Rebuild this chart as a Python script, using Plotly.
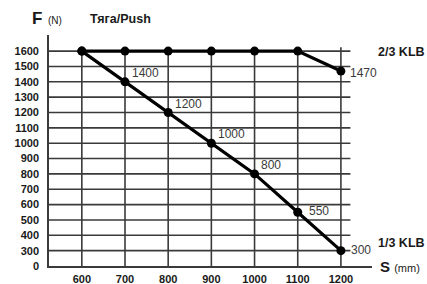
import plotly.graph_objects as go

s_mm = [600, 700, 800, 900, 1000, 1100, 1200]
klb23 = [1600, 1600, 1600, 1600, 1600, 1600, 1470]
klb13 = [1600, 1400, 1200, 1000, 800, 550, 300]
klb23_labels = ["", "", "", "", "", "", "1470"]
klb13_labels = ["", "1400", "1200", "1000", "800", "550", "300"]
y_ticks = [200, 300, 400, 500, 600, 700, 800, 900, 1000, 1100, 1200, 1300, 1400, 1500, 1600]
y_ticktext = ["0"] + [str(v) for v in y_ticks[1:]]
x_ticks = s_mm

# label offsets (pixels) – styling only
klb23_shift = [(0, 0)] * 6 + [(7, -2)]
klb13_shift = [(0, 0), (5, 9), (5, 9), (5, 9), (4, 9), (9, 1), (8, 1)]

FONT = "Liberation Sans, Arial, sans-serif"
GRID = "#3a3a3a"
TXT = "#1a1a1a"
LBL = "#3a3a3a"

L, R, T, B = 49, 55, 35, 18
PW = 427 - L - R
PH = 284 - T - B


def px(xp):
    return (xp - L) / PW


def py(yp):
    return (284 - B - yp) / PH


fig = go.Figure()

# grid lines as shapes (limited extent like the original)
for xv in x_ticks:
    fig.add_shape(type="line", x0=xv, x1=xv, y0=200, y1=1625,
                  line=dict(color=GRID, width=1.6), layer="between")
for yv in y_ticks[1:]:
    fig.add_shape(type="line", x0=524, x1=1222, y0=yv, y1=yv,
                  line=dict(color=GRID, width=1.6), layer="between")

for ys in (klb23, klb13):
    fig.add_trace(go.Scatter(
        x=s_mm, y=ys, mode="lines+markers",
        line=dict(color="black", width=3.2),
        marker=dict(color="black", size=9),
        cliponaxis=False, showlegend=False, hoverinfo="skip"))

ann = []
for ys, labels, shifts in ((klb23, klb23_labels, klb23_shift), (klb13, klb13_labels, klb13_shift)):
    for xv, yv, lab, (dx, dy) in zip(s_mm, ys, labels, shifts):
        if lab:
            ann.append(dict(x=xv, y=yv, xref="x", yref="y", text=lab, showarrow=False,
                            xanchor="left", yanchor="middle", xshift=dx, yshift=dy,
                            font=dict(family=FONT, size=12, color=LBL)))

fig.update_xaxes(range=[524, 1272], tickvals=x_ticks, showgrid=False, zeroline=False,
                 showline=True, linecolor=GRID, linewidth=1.6, automargin=False,
                 tickfont=dict(family=FONT, size=11, color=TXT, weight="bold"),
                 ticks="", ticklabelstandoff=2)
fig.update_yaxes(range=[200, 1705], tickvals=y_ticks, ticktext=y_ticktext,
                 showgrid=False, zeroline=False, automargin=False,
                 showline=True, linecolor=GRID, linewidth=1.6,
                 tickfont=dict(family=FONT, size=11, color=TXT, weight="bold"),
                 ticks="", ticklabelstandoff=6)

ann.append(dict(xref="paper", yref="paper", x=px(44), y=py(19), xanchor="right", yanchor="middle",
                text="<b>F</b>", showarrow=False, font=dict(family=FONT, size=17, color=TXT)))
ann.append(dict(xref="paper", yref="paper", x=px(46), y=py(20), xanchor="left", yanchor="middle",
                text="(N)", showarrow=False, font=dict(family=FONT, size=10, color=TXT)))
ann.append(dict(xref="paper", yref="paper", x=px(88), y=py(19), xanchor="left", yanchor="middle",
                text="<b>Тяга/Push</b>", showarrow=False, font=dict(family=FONT, size=12.5, color=TXT)))
ann.append(dict(xref="paper", yref="paper", x=px(376), y=py(52), xanchor="left", yanchor="middle",
                text="<b>2/3 KLB</b>", showarrow=False, font=dict(family=FONT, size=12.5, color=TXT)))
ann.append(dict(xref="paper", yref="paper", x=px(376), y=py(243), xanchor="left", yanchor="middle",
                text="<b>1/3 KLB</b>", showarrow=False, font=dict(family=FONT, size=12.5, color=TXT)))
ann.append(dict(xref="paper", yref="paper", x=px(378), y=py(266), xanchor="left", yanchor="middle",
                text="<b>S</b> <span style='font-size:11px'>(mm)</span>", showarrow=False,
                font=dict(family=FONT, size=15, color=TXT)))

fig.update_layout(width=427, height=284, margin=dict(l=L, r=R, t=T, b=B, autoexpand=False),
                  paper_bgcolor="white", plot_bgcolor="white", annotations=ann)

fig.write_html("out.html", config={"displayModeBar": False},
               post_script="document.body.style.margin='0';")
